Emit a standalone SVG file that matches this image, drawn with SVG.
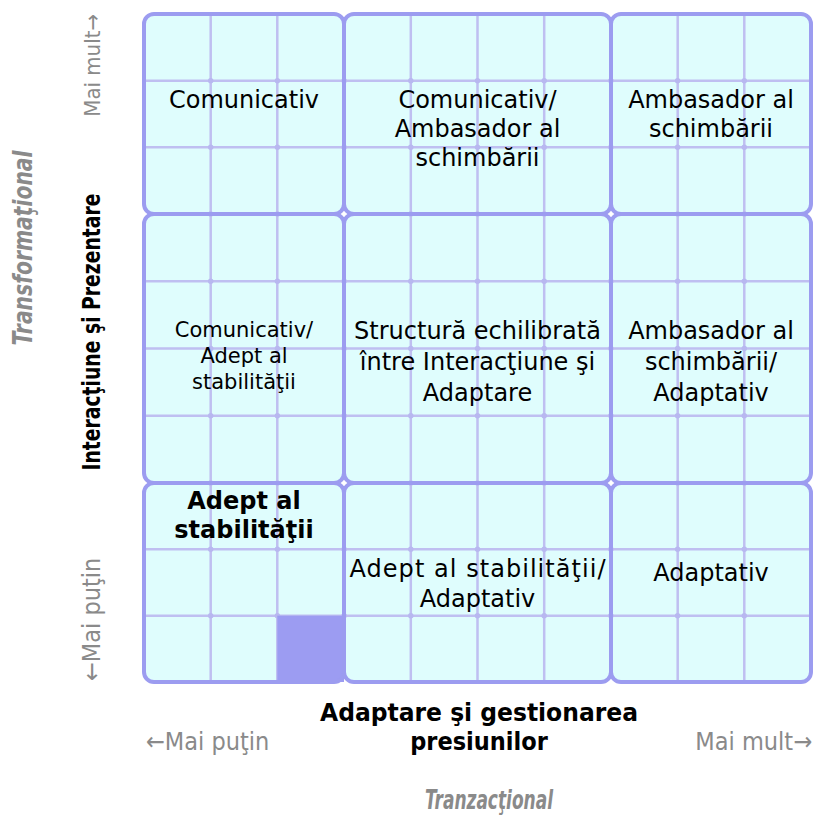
<svg xmlns="http://www.w3.org/2000/svg" width="813" height="818" viewBox="0 0 813 818">
  <style>
    .bg { fill: #dffdfd; stroke: none; }
    .cell { fill: none; stroke: #9c9cf0; stroke-width: 4; }
    .fine { stroke: #bfbff1; stroke-width: 2.5; fill: none; }
    .dots { stroke: #b8b8f0; stroke-width: 5.5; stroke-linecap: round; stroke-dasharray: 0 66.7; fill: none; }
    .lbl { font-family: "DejaVu Sans", Verdana, sans-serif; font-size: 24px; fill: #000; text-anchor: middle; }
    .sm { font-size: 21px; }
    .bold { font-weight: bold; }
    .axis { font-family: "DejaVu Sans Condensed", "DejaVu Sans", sans-serif; font-stretch: condensed; font-weight: bold; font-size: 25px; fill: #000; text-anchor: middle; }
    .hint { font-family: "DejaVu Sans Condensed", "DejaVu Sans", sans-serif; font-stretch: condensed; font-weight: 300; font-size: 25px; fill: #8a8a8a; }
    .pole { font-family: "DejaVu Sans Condensed", "DejaVu Sans", sans-serif; font-stretch: condensed; font-weight: bold; font-style: italic; font-size: 26px; fill: #8a8a8a; text-anchor: middle; }
  </style>

  <!-- block backgrounds -->
  <g id="fills">
    <rect class="bg" x="144" y="14" width="200" height="200" rx="10"/>
    <rect class="bg" x="344" y="14" width="267" height="200" rx="10"/>
    <rect class="bg" x="611" y="14" width="200" height="200" rx="10"/>
    <rect class="bg" x="144" y="214" width="200" height="269" rx="10"/>
    <rect class="bg" x="344" y="214" width="267" height="269" rx="10"/>
    <rect class="bg" x="611" y="214" width="200" height="269" rx="10"/>
    <rect class="bg" x="144" y="483" width="200" height="199" rx="10"/>
    <rect class="bg" x="344" y="483" width="267" height="199" rx="10"/>
    <rect class="bg" x="611" y="483" width="200" height="199" rx="10"/>
  </g>

  <!-- fine grid lines and their crossing dots -->
  <g id="grid">
    <g class="fine">
      <path d="M210.7 14V682M277.3 14V682M410.8 14V682M477.5 14V682M544.2 14V682M677.7 14V682M744.3 14V682"/>
      <path d="M144 80.7H811M144 147.3H811M144 281.2H811M144 348.5H811M144 415.8H811M144 549.3H811M144 615.7H811"/>
    </g>
    <g class="dots">
      <path d="M210.7 80.7H745M210.7 147.3H745M210.7 281.2H745M210.7 348.5H745M210.7 415.8H745M210.7 549.3H745M210.7 615.7H745"/>
      <path d="M210.7 214H278M410.8 214H545M677.7 214H745M210.7 483H278M410.8 483H545M677.7 483H745"/>
    </g>
    <!-- filled cell -->
    <rect x="277.3" y="615.7" width="66.7" height="66.3" fill="#9c9cf2"/>
  </g>

  <!-- nine block outlines -->
  <g id="blocks">
    <rect id="b11" class="cell" x="144" y="14" width="200" height="200" rx="10"/>
    <rect id="b12" class="cell" x="344" y="14" width="267" height="200" rx="10"/>
    <rect id="b13" class="cell" x="611" y="14" width="200" height="200" rx="10"/>
    <rect id="b21" class="cell" x="144" y="214" width="200" height="269" rx="10"/>
    <rect id="b22" class="cell" x="344" y="214" width="267" height="269" rx="10"/>
    <rect id="b23" class="cell" x="611" y="214" width="200" height="269" rx="10"/>
    <rect id="b31" class="cell" x="144" y="483" width="200" height="199" rx="10"/>
    <rect id="b32" class="cell" x="344" y="483" width="267" height="199" rx="10"/>
    <rect id="b33" class="cell" x="611" y="483" width="200" height="199" rx="10"/>
  </g>

  <g id="labels">
    <text class="lbl" x="244" y="108">Comunicativ</text>
    <text class="lbl" x="477.5" y="108">Comunicativ/<tspan x="477.5" dy="29">Ambasador al</tspan><tspan x="477.5" dy="29">schimbării</tspan></text>
    <text class="lbl" x="711" y="108">Ambasador al<tspan x="711" dy="29">schimbării</tspan></text>

    <text class="lbl sm" x="244" y="337">Comunicativ/<tspan x="244" dy="26">Adept al</tspan><tspan x="244" dy="26">stabilităţii</tspan></text>
    <text class="lbl" x="477.5" y="339">Structură echilibrată<tspan x="477.5" dy="31">între Interacţiune şi</tspan><tspan x="477.5" dy="31">Adaptare</tspan></text>
    <text class="lbl" x="711" y="339">Ambasador al<tspan x="711" dy="31">schimbării/</tspan><tspan x="711" dy="31">Adaptativ</tspan></text>

    <text class="lbl bold" x="244" y="509">Adept al<tspan x="244" dy="29">stabilităţii</tspan></text>
    <text class="lbl" x="477.5" y="577" textLength="256" lengthAdjust="spacing">Adept al stabilităţii/</text>
    <text class="lbl" x="477.5" y="607">Adaptativ</text>
    <text class="lbl" x="711" y="581">Adaptativ</text>
  </g>

  <g id="axes">
    <text class="axis" x="479" y="721" textLength="318" lengthAdjust="spacingAndGlyphs">Adaptare şi gestionarea</text>
    <text class="axis" x="479" y="750">presiunilor</text>
    <text class="hint" x="146" y="750">←Mai puţin</text>
    <text class="hint" x="812" y="750" text-anchor="end">Mai mult→</text>
    <text class="pole" x="489" y="809" textLength="128" lengthAdjust="spacingAndGlyphs">Tranzacţional</text>

    <text class="axis" transform="translate(100 332) rotate(-90)" textLength="277" lengthAdjust="spacingAndGlyphs">Interacţiune şi Prezentare</text>
    <text class="hint" transform="translate(100 14) rotate(-90)" text-anchor="end" style="font-size:22px">Mai mult→</text>
    <text class="hint" transform="translate(100 681) rotate(-90)">←Mai puţin</text>
    <text class="pole" transform="translate(32 248) rotate(-90)" textLength="195" lengthAdjust="spacingAndGlyphs">Transformaţional</text>
  </g>
</svg>
